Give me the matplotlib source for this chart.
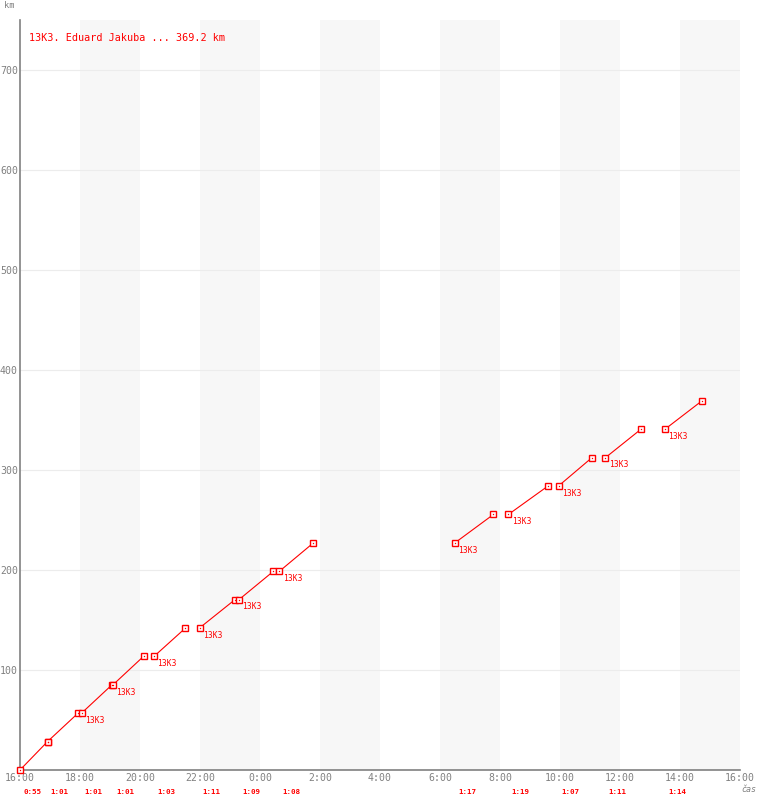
import matplotlib
matplotlib.use("Agg")
import matplotlib.pyplot as plt
from matplotlib.transforms import blended_transform_factory

# ---- data ----
title = "13K3. Eduard Jakuba ... 369.2 km"
lap_start = ["16:00", "16:55", "18:03", "19:06", "20:28", "21:59", "23:18",
             "0:39", "6:30", "8:17", "9:57", "11:31", "13:30"]
lap_end = ["16:55", "17:56", "19:04", "20:07", "21:31", "23:10", "0:27",
           "1:47", "7:47", "9:36", "11:04", "12:42", "14:44"]
lap_time = ["0:55", "1:01", "1:01", "1:01", "1:03", "1:11", "1:09",
            "1:08", "1:17", "1:19", "1:07", "1:11", "1:14"]
km_start = [0, 28.4, 56.8, 85.2, 113.6, 142.0, 170.4, 198.8, 227.2,
            255.6, 284.0, 312.4, 340.8]
km_end = [28.4, 56.8, 85.2, 113.6, 142.0, 170.4, 198.8, 227.2, 255.6,
          284.0, 312.4, 340.8, 369.2]
start_label = ["", "", "13K3", "13K3", "13K3", "13K3", "13K3", "13K3",
               "13K3", "13K3", "13K3", "13K3", "13K3"]
x_ticks = [16, 18, 20, 22, 24, 26, 28, 30, 32, 34, 36, 38, 40]
x_tick_labels = ["16:00", "18:00", "20:00", "22:00", "0:00", "2:00", "4:00",
                 "6:00", "8:00", "10:00", "12:00", "14:00", "16:00"]
y_ticks = [100, 200, 300, 400, 500, 600, 700]
band_start = [18, 22, 26, 30, 34, 38]


def to_h(s):
    h, m = s.split(":")
    v = int(h) + int(m) / 60.0
    if v < 16:
        v += 24
    return v


RED = "#ff0000"
GRAY = "#808080"
MONO = "DejaVu Sans Mono"

fig = plt.figure(figsize=(7.6, 8.0), dpi=100)
W, H = 760, 800
ax = fig.add_axes([20 / W, 30 / H, 720 / W, 750 / H])
ax.set_xlim(16, 40)
ax.set_ylim(0, 750)

for b in band_start:
    ax.axvspan(b, b + 2, color="#f7f7f7", lw=0, zorder=0)
for yv in y_ticks:
    ax.axhline(yv, color="#ececec", lw=0.8, zorder=1)

for s, e, k0, k1 in zip(lap_start, lap_end, km_start, km_end):
    xs = [to_h(s), to_h(e)]
    ys = [k0, k1]
    ax.plot(xs, ys, color=RED, lw=0.8, zorder=3, clip_on=False)
    ax.plot(xs, ys, ls="none", marker="s", ms=4.4, mfc="white", mec=RED,
            mew=1.0, zorder=4, clip_on=False)
    ax.plot(xs, ys, ls="none", marker="s", ms=0.9, mfc=RED, mec="none",
            zorder=5, clip_on=False)

for s, k0, lab in zip(lap_start, km_start, start_label):
    if lab:
        ax.annotate(lab, (to_h(s), k0), xytext=(2.3, -5.2),
                    textcoords="offset points", ha="left", va="center",
                    color=RED, fontsize=5.8, family=MONO)

tr = blended_transform_factory(ax.transData, fig.transFigure)
for s, t in zip(lap_start, lap_time):
    ax.annotate(t, (to_h(s), 8 / H), xycoords=tr, xytext=(2.2, 0),
                textcoords="offset points", ha="left", va="center",
                color=RED, fontsize=5.4, family=MONO, fontweight="bold")

ax.set_xticks(x_ticks)
ax.set_xticklabels(x_tick_labels)
ax.set_yticks(y_ticks)
ax.set_yticklabels([str(v) for v in y_ticks])
ax.tick_params(axis="both", length=0, colors=GRAY, labelsize=7.1)
ax.tick_params(axis="x", pad=2.5)
ax.tick_params(axis="y", pad=1.5)
for lbl in ax.get_xticklabels() + ax.get_yticklabels():
    lbl.set_family(MONO)

for sp in ["top", "right"]:
    ax.spines[sp].set_visible(False)
for sp in ["left", "bottom"]:
    ax.spines[sp].set_color(GRAY)
    ax.spines[sp].set_linewidth(1.2)
    ax.spines[sp].set_zorder(2)

fig.text(29 / W, 1 - 38 / H, title, color=RED, fontsize=7.3, family=MONO,
         ha="left", va="center")
fig.text(4 / W, 1 - 6 / H, "km", color=GRAY, fontsize=6.3, family=MONO,
         ha="left", va="center")
fig.text(741 / W, 1 - 790 / H, "čas", color=GRAY, fontsize=6, family=MONO,
         ha="left", va="center", style="italic")

fig.savefig("out.png", dpi=100)
